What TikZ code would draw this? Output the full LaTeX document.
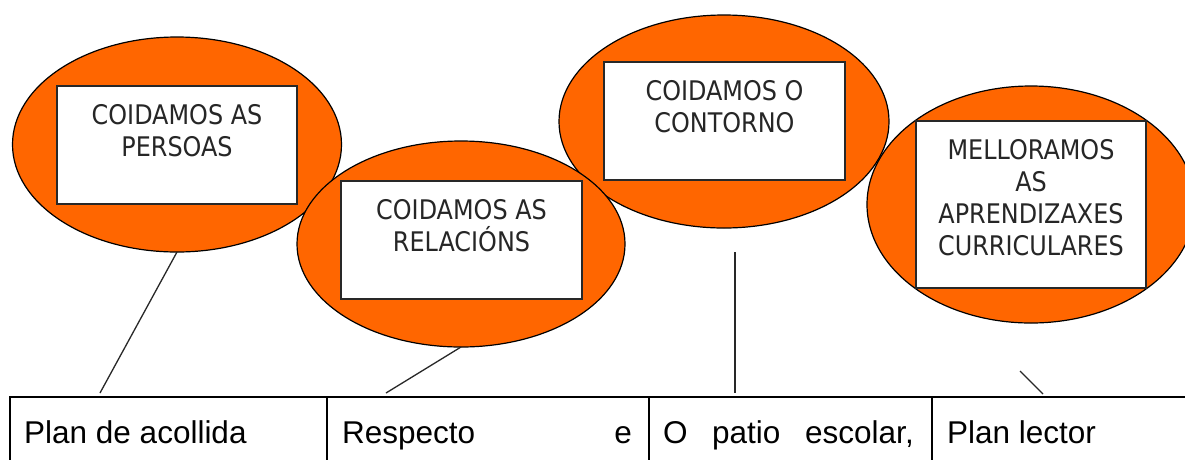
\documentclass[tikz,border=0pt]{standalone}
\usepackage{fontspec}
\setmainfont{Liberation Sans}
\newfontfamily\ellfont[FakeStretch=0.885]{DejaVu Sans}
\usetikzlibrary{shapes.geometric}
\definecolor{orng}{RGB}{255,102,0}
\definecolor{dk}{RGB}{40,40,40}
\begin{document}
\begin{tikzpicture}[x=1pt,y=-1pt,
  ell/.style={ellipse, draw=black, line width=1.2pt, fill=orng, inner sep=0pt, outer sep=0pt},
  box/.style={rectangle, draw=dk, line width=1.4pt, fill=white, inner sep=0pt},
  lbl/.style={font=\ellfont\fontsize{27}{32}\selectfont, text=black!85, align=center, inner sep=0pt, anchor=north},
  cell/.style={rectangle, draw=black, line width=2pt, anchor=north west, minimum height=120pt, inner sep=0pt},
  celltxt/.style={font=\fontsize{31.5}{38}\selectfont, text=black, inner sep=0pt},
  link/.style={draw=dk, line width=1.3pt}]
\useasboundingbox (0,0) rectangle (1185,459);
\clip (0,0) rectangle (1185,459);
\fill[white] (0,0) rectangle (1185,459);
% ellipses
\node[ell, minimum width=329pt, minimum height=215pt] (e1) at (177,144.5) {};
\node[ell, minimum width=330pt, minimum height=213pt] (e3) at (724,121.5) {};
\node[ell, minimum width=328pt, minimum height=237pt] (e4) at (1031,204.5) {};
\node[ell, minimum width=328pt, minimum height=206pt] (e2) at (461,244) {};
% boxes
\node[box, minimum width=240pt, minimum height=118pt] (r1) at (177,145) {};
\node[box, minimum width=241pt, minimum height=118pt] (r2) at (461.5,240) {};
\node[box, minimum width=241pt, minimum height=118pt] (r3) at (724.5,121) {};
\node[box, minimum width=230pt, minimum height=167pt] (r4) at (1031,204.5) {};
% labels
\node[lbl] (t1) at (177,104) {COIDAMOS AS\\PERSOAS};
\node[lbl] (t2) at (461.5,199) {COIDAMOS AS\\RELACIÓNS};
\node[lbl] (t3) at (724.5,80) {COIDAMOS O\\CONTORNO};
\node[lbl] (t4) at (1031,139) {MELLORAMOS\\AS\\APRENDIZAXES\\CURRICULARES};
% table
\node[cell, minimum width=317pt] (c1) at (9,396) {};
\node[cell, minimum width=322pt] (c2) at (326,396) {};
\node[cell, minimum width=283pt] (c3) at (648,396) {};
\node[cell, minimum width=300pt] (c4) at (931,396) {};
\node[celltxt, anchor=base west] (p1) at (24,443) {Plan de acollida};
\node[celltxt, anchor=base west] (p2a) at (342,443) {Respecto};
\node[celltxt, anchor=base east] (p2b) at (632,443) {e};
\node[celltxt, anchor=base west] (p3a) at (663,443) {O};
\node[celltxt, anchor=base west] (p3b) at (712,443) {patio};
\node[celltxt, anchor=base west] (p3c) at (805,443) {escolar,};
\node[celltxt, anchor=base west] (p4) at (947,443) {Plan lector};
% connectors
\coordinate (a1) at (100,393);
\coordinate (a2) at (386,393);
\coordinate (b3) at (735,252);
\coordinate (a3) at (735,393);
\coordinate (b4) at (1020,371);
\coordinate (a4) at (1043,394);
\draw[link] (e1.south) -- (a1);
\draw[link] (e2.south) -- (a2);
\draw[link] (b3) -- (a3);
\draw[link] (b4) -- (a4);
\end{tikzpicture}
\end{document}
